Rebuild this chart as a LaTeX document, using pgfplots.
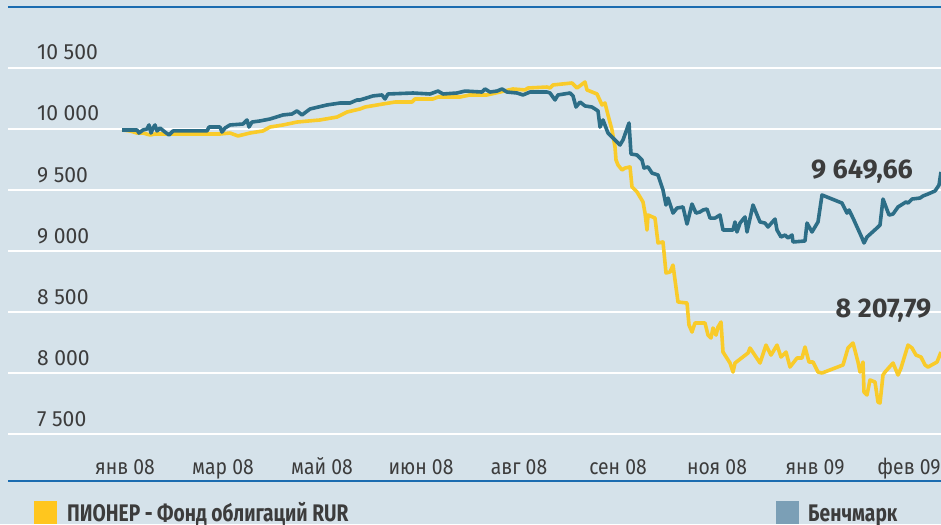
\documentclass[border=0pt]{standalone}
\usepackage{fontspec}
\setmainfont{Fira Sans}
\newfontfamily\tickfont[FakeStretch=0.88]{Fira Sans}
\newfontfamily\ytickfont[FakeStretch=0.96]{Fira Sans}
\newfontfamily\condfont[FakeStretch=0.8]{Fira Sans}
\newfontfamily\annfont{Fira Sans}
\usepackage{pgfplots}
\pgfplotsset{compat=1.18}
\definecolor{bg}{HTML}{D5E2EA}
\definecolor{topblue}{HTML}{1B6CB0}
\definecolor{fundyellow}{HTML}{F9CB2A}
\definecolor{benchblue}{HTML}{2D6E87}
\definecolor{legyellow}{HTML}{FFC61E}
\definecolor{legblue}{HTML}{7B9FB6}
\definecolor{txt}{HTML}{3C3C3C}
\begin{document}
\begin{tikzpicture}[x=1pt,y=1pt]
\fill[bg] (0,0) rectangle (941,524);
\begin{axis}[
  at={(8pt,43pt)}, anchor=south west,
  scale only axis, width=933pt, height=474pt,
  xmin=8, xmax=941, ymin=7115, ymax=11000,
  separate axis lines,
  x axis line style={draw=topblue, line width=1.8pt},
  y axis line style={draw=none},
  major tick length=0pt, tick style={draw=none},
  ytick={7500,8000,8500,9000,9500,10000,10500},
  yticklabels={7 500,8 000,8 500,9 000,9 500,10 000,10 500},
  yticklabel style={font=\ytickfont\fontsize{22}{22}\selectfont, text=txt, anchor=base west, inner sep=0pt, xshift=29pt, yshift=8pt},
  xtick={125,223,322,421,519,618,717,815,909},
  xticklabels={янв 08,мар 08,май 08,июн 08,авг 08,сен 08,ноя 08,янв 09,фев 09},
  xticklabel style={font=\tickfont\fontsize{22}{22}\selectfont, text=txt, anchor=base, inner sep=0pt, yshift=7pt},
  ymajorgrids, grid style={white, line width=2pt},
]
\addplot[fundyellow, line width=3.6pt, line join=round] coordinates {
(122,9992)(130,9984)(137,9967)(143,9967)(150,9951)(155,9959)(165,9959)(220,9959)
(230,9967)(238,9943)(250,9967)(263,9984)(270,10016)(283,10033)(297,10057)(320,10074)
(337,10098)(347,10139)(360,10164)(365,10180)(383,10205)(395,10221)(412,10221)(415,10246)
(433,10246)(438,10262)(460,10262)(470,10279)(487,10279)(500,10303)(513,10328)(525,10320)
(528,10336)(547,10344)(550,10336)(553,10361)(572,10377)(577,10336)(585,10385)(587,10320)
(597,10287)(602,10197)(605,10213)(608,10115)(612,9992)(615,9852)(616,9746)(618,9705)
(622,9664)(625,9680)(630,9689)(632,9525)(637,9484)(643,9402)(645,9311)(647,9172)
(648,9295)(655,9270)(658,9066)(663,9074)(666,8820)(670,8828)(673,8885)(675,8762)
(678,8582)(687,8574)(689,8393)(692,8336)(695,8410)(705,8410)(708,8311)(711,8287)
(713,8369)(716,8311)(718,8377)(721,8418)(723,8172)(730,8082)(733,8008)(735,8082)
(748,8164)(750,8205)(760,8082)(766,8229)(771,8147)(777,8229)(781,8131)(786,8172)
(790,8049)(797,8123)(802,8123)(805,8213)(809,8090)(813,8090)(818,8008)(822,8000)
(843,8066)(848,8205)(853,8246)(858,8090)(860,8008)(863,8090)(864,7844)(867,7820)
(870,7943)(875,7926)(878,7762)(880,7754)(883,7984)(885,8008)(893,8082)(898,7984)
(901,8041)(908,8229)(912,8205)(916,8147)(921,8131)(925,8066)(928,8049)(937,8090)
(941,8172)
};
\addplot[benchblue, line width=3.6pt, line join=round] coordinates {
(122,9992)(137,9992)(139,9967)(143,9992)(147,10000)(149,10033)(151,9967)(153,10008)
(155,10033)(157,9984)(160,10008)(165,9975)(169,9951)(173,9984)(207,9984)(209,10016)
(220,10016)(222,9975)(225,10008)(230,10033)(243,10041)(247,10074)(249,10016)(252,10057)
(260,10066)(270,10082)(283,10115)(292,10123)(297,10148)(302,10115)(310,10164)(327,10197)
(340,10213)(350,10213)(357,10238)(360,10238)(373,10271)(382,10279)(385,10246)(388,10287)
(413,10295)(430,10287)(438,10311)(443,10287)(457,10295)(465,10311)(482,10303)(485,10328)
(490,10303)(497,10311)(502,10328)(507,10303)(517,10295)(523,10279)(530,10303)(547,10303)
(550,10295)(555,10238)(558,10279)(570,10295)(573,10271)(576,10180)(580,10221)(585,10189)
(592,10180)(598,10148)(600,10016)(603,10074)(608,9967)(613,9926)(620,9869)(623,9910)
(629,10049)(631,9795)(637,9787)(642,9746)(644,9680)(648,9689)(652,9639)(658,9623)
(663,9500)(666,9377)(668,9434)(673,9311)(677,9352)(683,9361)(687,9221)(692,9385)
(696,9311)(700,9320)(703,9336)(707,9344)(710,9270)(715,9270)(720,9295)(723,9172)
(733,9172)(735,9238)(737,9156)(740,9229)(745,9279)(747,9156)(753,9377)(760,9238)
(765,9229)(768,9197)(775,9262)(777,9172)(781,9115)(785,9131)(788,9107)(792,9131)
(793,9074)(805,9082)(807,9229)(812,9156)(818,9238)(822,9459)(842,9393)(847,9311)
(849,9336)(853,9270)(862,9107)(864,9066)(867,9115)(877,9189)(880,9213)(883,9426)
(889,9295)(893,9303)(898,9361)(906,9402)(908,9393)(912,9426)(920,9434)(923,9451)
(928,9467)(935,9492)(939,9541)(941,9648)
};
\node[font=\annfont\bfseries\fontsize{27}{27}\selectfont, text=txt, anchor=base, inner sep=0pt] at (axis cs:862,9598) {9 649,66};
\node[font=\annfont\bfseries\fontsize{27}{27}\selectfont, text=txt, anchor=base, inner sep=0pt] at (axis cs:883.5,8459) {8 207,79};
\end{axis}
\fill[legyellow] (34,0) rectangle (57,23);
\node[anchor=base west, inner sep=0pt, font=\condfont\bfseries\fontsize{24}{24}\selectfont, text=txt] at (67,2) {ПИОНЕР - Фонд облигаций RUR};
\fill[legblue] (776,0) rectangle (799,23);
\node[anchor=base west, inner sep=0pt, font=\condfont\bfseries\fontsize{24}{24}\selectfont, text=txt] at (808,2) {Бенчмарк};
\pgfresetboundingbox
\useasboundingbox (0,0) rectangle (941,524);
\end{tikzpicture}
\end{document}
